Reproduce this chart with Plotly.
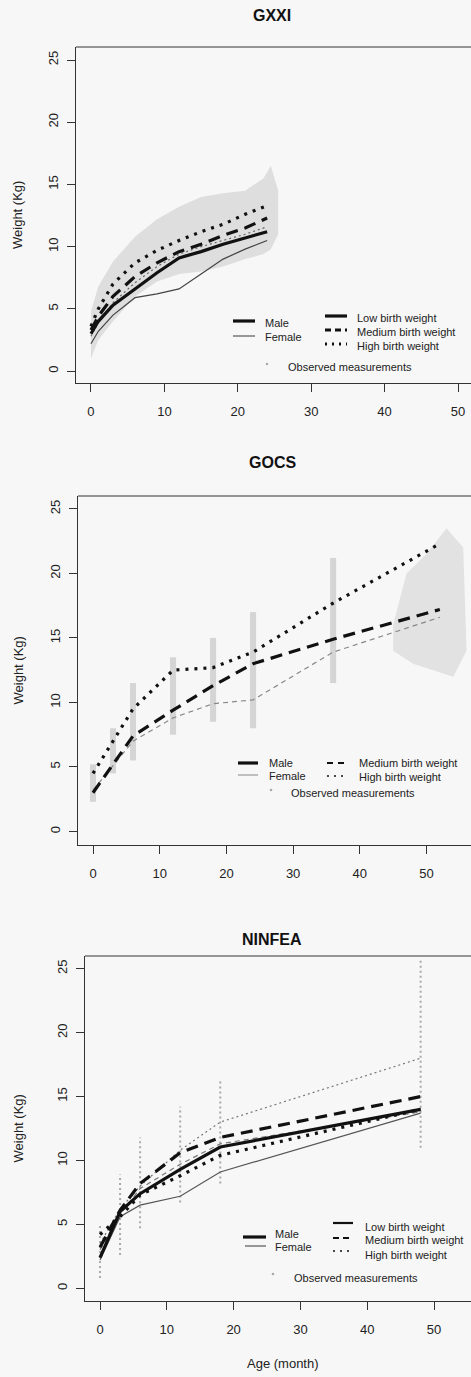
import plotly.graph_objects as go

# ---------------- data ----------------
tick_x = [0, 10, 20, 30, 40, 50]
tick_y = [0, 5, 10, 15, 20, 25]
panel_titles = ["GXXI", "GOCS", "NINFEA"]

# GXXI
gxxi_age = [0, 1, 3, 6, 9, 12, 15, 18, 21, 24]
gxxi_male_low = [3.0, 4.0, 5.3, 6.6, 7.9, 9.1, 9.6, 10.2, 10.7, 11.2]
gxxi_male_med = [3.3, 4.4, 6.0, 7.6, 8.7, 9.6, 10.2, 10.9, 11.5, 12.3]
gxxi_male_high = [3.6, 5.0, 7.0, 8.7, 9.7, 10.5, 11.2, 11.8, 12.6, 13.3]
gxxi_female_low = [2.2, 3.2, 4.5, 5.9, 6.2, 6.6, 7.8, 9.0, 9.8, 10.5]
gxxi_female_high = [2.8, 3.9, 5.5, 7.1, 8.4, 9.4, 10.0, 10.5, 11.0, 11.6]
gxxi_obs_age = [0, 1, 3, 6, 9, 12, 15, 18, 21, 23.5, 24.5, 25.5]
gxxi_obs_hi = [4.8, 6.8, 8.8, 10.8, 12.2, 13.2, 14.0, 14.3, 14.5, 15.5, 16.5, 14.5]
gxxi_obs_lo = [1.0, 2.5, 4.0, 6.0, 7.2, 7.8, 8.0, 8.4, 9.0, 9.4, 9.8, 11.0]

# GOCS
gocs_age = [0, 6, 12, 18, 24, 36, 52]
gocs_male_med = [3.0, 7.4, 9.4, 11.3, 13.0, 14.9, 17.2]
gocs_male_high = [4.5, 9.5, 12.5, 12.7, 13.9, 17.7, 22.3]
gocs_female_med = [3.2, 7.0, 8.8, 9.9, 10.2, 13.9, 16.6]
gocs_obs_age = [0, 3, 6, 12, 18, 24, 36]
gocs_obs_lo = [2.3, 4.5, 5.5, 7.5, 8.5, 8.0, 11.5]
gocs_obs_hi = [5.2, 8.0, 11.5, 13.5, 15.0, 17.0, 21.2]
gocs_cloud_x = [45, 47, 50, 53, 55.5, 56, 54, 51, 48, 45]
gocs_cloud_y = [16, 20, 21.5, 23.5, 22, 14, 12, 12.5, 13, 14]

# NINFEA
ninfea_age = [0, 3, 6, 12, 18, 48]
ninfea_male_low = [2.4, 6.0, 7.4, 9.3, 11.05, 14.0]
ninfea_male_med = [3.2, 6.1, 8.2, 10.6, 11.8, 15.0]
ninfea_male_high = [4.2, 5.6, 7.3, 8.8, 10.4, 14.0]
ninfea_female_low = [2.2, 5.6, 6.5, 7.2, 9.1, 13.7]
ninfea_female_med = [3.0, 5.8, 7.8, 9.7, 11.3, 13.8]
ninfea_female_high = [3.5, 6.2, 8.0, 10.8, 13.0, 18.0]
ninfea_obs_age = [0, 3, 6, 12, 18, 48]
ninfea_obs_lo = [0.8, 2.6, 4.7, 6.7, 8.2, 11.0]
ninfea_obs_hi = [4.9, 8.9, 11.8, 14.2, 16.3, 25.8]

# ---------------- layout helpers ----------------
W, H = 471, 1377
FONT = "Liberation Sans, Arial, sans-serif"


def fx(p):
    return p / W


def fy(p):
    return 1 - p / H


# geometry per panel: box left, top, bottom (px), x-range, y-range, title y
panels = [
    dict(left=76, top=47, bottom=383, xr=[-2.04, 51.77], yr=[-0.96, 26.05], ty=15),
    dict(left=78, top=496, bottom=845, xr=[-2.25, 56.67], yr=[-1.05, 26.0], ty=463),
    dict(left=85, top=956, bottom=1301, xr=[-2.25, 55.54], yr=[-1.0, 26.0], ty=940),
]

THICK = 3.2
THIN = 1.2
DASH_T = "12px,7px"
DOT_T = "3px,6px"
DASH_t = "5px,4px"
DOT_t = "2px,3px"

fig = go.Figure()


def add_line(ax, x, y, color, width, dash):
    fig.add_trace(go.Scatter(x=x, y=y, mode="lines", xaxis=ax[0], yaxis=ax[1],
                             line=dict(color=color, width=width, dash=dash),
                             showlegend=False, hoverinfo="skip"))


A1, A2, A3 = ("x", "y"), ("x2", "y2"), ("x3", "y3")

# --- GXXI observations (cloud envelope)
fig.add_trace(go.Scatter(x=gxxi_obs_age + gxxi_obs_age[::-1],
                         y=gxxi_obs_hi + gxxi_obs_lo[::-1],
                         fill="toself", fillcolor="rgba(175,175,175,0.35)",
                         line=dict(width=0), mode="lines", xaxis="x", yaxis="y",
                         showlegend=False, hoverinfo="skip"))
add_line(A1, gxxi_age, gxxi_female_low, "#444", THIN, "solid")
add_line(A1, gxxi_age, gxxi_female_high, "#666", THIN, DOT_t)
add_line(A1, gxxi_age, gxxi_male_low, "#111", THICK, "solid")
add_line(A1, gxxi_age, gxxi_male_med, "#111", THICK, DASH_T)
add_line(A1, gxxi_age, gxxi_male_high, "#111", THICK, DOT_T)

# --- GOCS observations
sx, sy = [], []
for a, lo, hi in zip(gocs_obs_age, gocs_obs_lo, gocs_obs_hi):
    sx += [a, a, None]
    sy += [lo, hi, None]
fig.add_trace(go.Scatter(x=sx, y=sy, mode="lines", xaxis="x2", yaxis="y2",
                         line=dict(color="rgba(150,150,150,0.35)", width=6),
                         showlegend=False, hoverinfo="skip"))
fig.add_trace(go.Scatter(x=gocs_cloud_x, y=gocs_cloud_y, fill="toself",
                         fillcolor="rgba(185,185,185,0.35)", line=dict(width=0),
                         mode="lines", xaxis="x2", yaxis="y2",
                         showlegend=False, hoverinfo="skip"))
add_line(A2, gocs_age, gocs_female_med, "#888", THIN, DASH_t)
add_line(A2, gocs_age, gocs_male_med, "#111", THICK, DASH_T)
add_line(A2, gocs_age, gocs_male_high, "#111", THICK, DOT_T)

# --- NINFEA observations
sx, sy = [], []
for a, lo, hi in zip(ninfea_obs_age, ninfea_obs_lo, ninfea_obs_hi):
    sx += [a, a, None]
    sy += [lo, hi, None]
fig.add_trace(go.Scatter(x=sx, y=sy, mode="lines", xaxis="x3", yaxis="y3",
                         line=dict(color="#aaa", width=2, dash="2px,3px"),
                         showlegend=False, hoverinfo="skip"))
add_line(A3, ninfea_age, ninfea_female_low, "#555", THIN, "solid")
add_line(A3, ninfea_age, ninfea_female_med, "#777", THIN, DASH_t)
add_line(A3, ninfea_age, ninfea_female_high, "#777", THIN, DOT_t)
add_line(A3, ninfea_age, ninfea_male_low, "#111", THICK, "solid")
add_line(A3, ninfea_age, ninfea_male_med, "#111", THICK, DASH_T)
add_line(A3, ninfea_age, ninfea_male_high, "#111", THICK, DOT_T)

# ---------------- axes ----------------
axis_common = dict(showline=True, linecolor="#333", linewidth=1, ticks="outside",
                   ticklen=8, tickcolor="#333", showgrid=False, zeroline=False,
                   tickfont=dict(family=FONT, size=13, color="#222"),
                   automargin=False, fixedrange=True)
layout = {}
shapes = []
annotations = []
for i, p in enumerate(panels):
    sfx = "" if i == 0 else str(i + 1)
    ydom = [fy(p["bottom"]), fy(p["top"])]
    layout["xaxis" + sfx] = dict(axis_common, domain=[fx(p["left"]), 1], range=p["xr"],
                                 tickvals=tick_x, anchor="y" + sfx, ticklabelstandoff=8)
    layout["yaxis" + sfx] = dict(axis_common, domain=ydom, range=p["yr"],
                                 tickvals=tick_y, tickangle=-90, anchor="x" + sfx,
                                 ticklabelstandoff=4)
    shapes.append(dict(type="line", xref="paper", yref="paper",
                       x0=fx(p["left"]), x1=1, y0=fy(p["top"]), y1=fy(p["top"]),
                       line=dict(color="#333", width=1)))
    annotations.append(dict(text="<b>%s</b>" % panel_titles[i], xref="paper", yref="paper",
                            x=fx(272), y=fy(p["ty"]), showarrow=False,
                            font=dict(family=FONT, size=16, color="#111"),
                            xanchor="center", yanchor="middle"))
    annotations.append(dict(text="Weight (Kg)", xref="paper", yref="paper",
                            x=fx(18), y=fy((p["top"] + p["bottom"]) / 2), showarrow=False,
                            textangle=-90, font=dict(family=FONT, size=13, color="#222"),
                            xanchor="center", yanchor="middle"))

annotations.append(dict(text="Age (month)", xref="paper", yref="paper",
                        x=fx(283), y=fy(1363), showarrow=False,
                        font=dict(family=FONT, size=13, color="#222"),
                        xanchor="center", yanchor="middle"))

# ---------------- legends (drawn) ----------------
LEG = dict(family=FONT, size=11, color="#222")


def leg_line(x0, x1, y, width, dash, color="#111"):
    shapes.append(dict(type="line", xref="paper", yref="paper",
                       x0=fx(x0), x1=fx(x1), y0=fy(y), y1=fy(y),
                       line=dict(color=color, width=width, dash=dash)))


def leg_text(x, y, t):
    annotations.append(dict(text=t, xref="paper", yref="paper", x=fx(x), y=fy(y),
                            showarrow=False, font=LEG, xanchor="left", yanchor="middle"))


def leg_dot(x, y, color="#aaa"):
    shapes.append(dict(type="circle", xref="paper", yref="paper",
                       x0=fx(x - 1.3), x1=fx(x + 1.3), y0=fy(y + 1.3), y1=fy(y - 1.3),
                       fillcolor=color, line=dict(width=0)))


# GXXI legend
leg_line(233, 255, 321, THICK, "solid")
leg_text(263, 323, "Male")
leg_line(233, 255, 336, THIN, "solid", "#555")
leg_text(263, 337, "Female")
leg_line(325, 347, 316, THICK, "solid")
leg_text(355, 318, "Low birth weight")
leg_line(325, 347, 330, THICK, "6px,4px")
leg_text(355, 332, "Medium birth weight")
leg_line(325, 347, 344, THICK, "2px,5px")
leg_text(355, 346, "High birth weight")
leg_dot(267, 364)
leg_text(286, 367, "Observed measurements")

# GOCS legend
leg_line(238, 258, 763, THICK, "solid")
leg_text(267, 763, "Male")
leg_line(238, 258, 775, THIN, "solid", "#999")
leg_text(267, 776, "Female")
leg_line(327, 347, 763, 1.8, "6px,5px")
leg_text(357, 763, "Medium birth weight")
leg_line(327, 347, 776, 1.5, "2px,5px")
leg_text(357, 777, "High birth weight")
leg_dot(271, 790)
leg_text(289, 793, "Observed measurements")

# NINFEA legend
leg_line(243, 266, 1237, THICK, "solid")
leg_text(273, 1234, "Male")
leg_line(245, 266, 1246, THIN, "solid", "#555")
leg_text(273, 1247, "Female")
leg_line(333, 353, 1223, 2.2, "solid")
leg_text(363, 1227, "Low birth weight")
leg_line(333, 353, 1238, 2.2, "6px,4px")
leg_text(363, 1240, "Medium birth weight")
leg_line(333, 353, 1251, 1.6, "2px,5px")
leg_text(363, 1255, "High birth weight")
leg_dot(273, 1274)
leg_text(292, 1278, "Observed measurements")

fig.update_layout(
    width=W, height=H,
    margin=dict(l=0, r=0, t=0, b=0),
    paper_bgcolor="#f7f7f7", plot_bgcolor="#f7f7f7",
    showlegend=False,
    shapes=shapes, annotations=annotations,
    font=dict(family=FONT),
    **layout,
)

fig.write_html("out.html", include_plotlyjs=True, config=dict(displayModeBar=False),
               post_script="document.body.style.margin='0';document.body.style.overflow='hidden';")
